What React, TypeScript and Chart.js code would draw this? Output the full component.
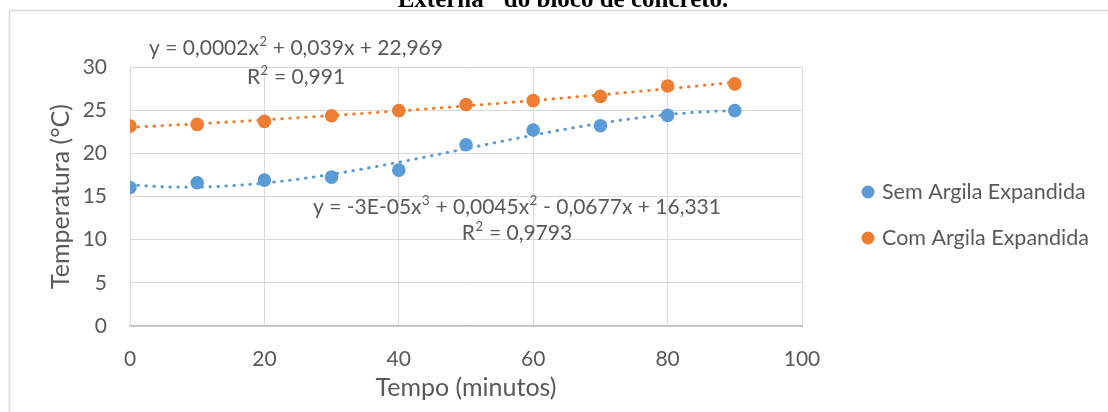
import React, { useEffect, useRef } from "react";
import { Chart, registerables } from "chart.js";

Chart.register(...registerables);

// ---- data ----
const tempoMin: number[] = [0, 10, 20, 30, 40, 50, 60, 70, 80, 90];
const semArgila: number[] = [16.05, 16.6, 16.9, 17.25, 18.05, 21.0, 22.7, 23.2, 24.4, 24.95];
const comArgila: number[] = [23.15, 23.35, 23.7, 24.35, 24.95, 25.65, 26.1, 26.6, 27.8, 28.05];
const seriesNames: string[] = ["Sem Argila Expandida", "Com Argila Expandida"];
const eqSem: string[] = ["y = -3E-05x³ + 0,0045x² - 0,0677x + 16,331", "R² = 0,9793"];
const eqCom: string[] = ["y = 0,0002x² + 0,039x + 22,969", "R² = 0,991"];
const xTitle = "Tempo (minutos)";
const yTitle = "Temperatura (°C)";
const captionText = "Externa\" do bloco de concreto.";

const BLUE = "#5B9BD5";
const ORANGE = "#ED7D31";
const TXT = "#595959";
const FONT = "Lato, 'Noto Sans', sans-serif";

// least-squares polynomial fit (as Excel trendline)
function polyfit(xs: number[], ys: number[], deg: number): number[] {
  const n = deg + 1;
  const A: number[][] = [];
  for (let i = 0; i < n; i++) {
    A.push([]);
    for (let j = 0; j < n; j++) {
      let s = 0;
      for (const x of xs) s += Math.pow(x, i + j);
      A[i].push(s);
    }
    let b = 0;
    xs.forEach((x, k) => (b += ys[k] * Math.pow(x, i)));
    A[i].push(b);
  }
  for (let c = 0; c < n; c++) {
    let p = c;
    for (let r = c + 1; r < n; r++) if (Math.abs(A[r][c]) > Math.abs(A[p][c])) p = r;
    [A[c], A[p]] = [A[p], A[c]];
    for (let r = 0; r < n; r++) {
      if (r === c) continue;
      const f = A[r][c] / A[c][c];
      for (let k = c; k <= n; k++) A[r][k] -= f * A[c][k];
    }
  }
  return A.map((row, i) => row[n] / row[i]);
}

function trend(xs: number[], ys: number[], deg: number) {
  const co = polyfit(xs, ys, deg);
  const out: { x: number; y: number }[] = [];
  const x0 = xs[0];
  const x1 = xs[xs.length - 1];
  for (let x = x0; x <= x1 + 1e-9; x += 1) {
    out.push({ x, y: co.reduce((s, c, i) => s + c * Math.pow(x, i), 0) });
  }
  return out;
}

// draws text centered at (cx, cy), rendering ² and ³ as raised small digits
function drawRich(ctx: CanvasRenderingContext2D, text: string, cx: number, cy: number, size: number) {
  const sup: Record<string, string> = { "²": "2", "³": "3" };
  const runs: { t: string; s: boolean }[] = [];
  for (const ch of text) {
    const isSup = ch in sup;
    const t = isSup ? sup[ch] : ch;
    const last = runs[runs.length - 1];
    if (last && last.s === isSup) last.t += t;
    else runs.push({ t, s: isSup });
  }
  const big = `${size}px ${FONT}`;
  const small = `${Math.round(size * 0.64)}px ${FONT}`;
  let total = 0;
  const widths = runs.map((r) => {
    ctx.font = r.s ? small : big;
    const w = ctx.measureText(r.t).width + (r.s ? 1 : 0);
    total += w;
    return w;
  });
  let x = cx - total / 2;
  ctx.textAlign = "left";
  ctx.textBaseline = "middle";
  runs.forEach((r, i) => {
    ctx.font = r.s ? small : big;
    ctx.fillText(r.t, x + (r.s ? 0.5 : 0), r.s ? cy - size * 0.3 : cy);
    x += widths[i];
  });
}

const decorPlugin = {
  id: "decor",
  beforeDraw(chart: any) {
    const ctx = chart.ctx;
    ctx.save();
    ctx.fillStyle = "#ffffff";
    ctx.fillRect(0, 0, chart.width, chart.height);
    ctx.strokeStyle = "#D9D9D9";
    ctx.lineWidth = 1.5;
    ctx.strokeRect(9.5, 10.5, chart.width + 20, chart.height + 20);
    // clipped caption
    ctx.fillStyle = "#000000";
    ctx.font = "bold 25px 'Liberation Serif', 'Times New Roman', serif";
    ctx.textAlign = "center";
    ctx.textBaseline = "alphabetic";
    ctx.fillText(captionText, 563, 7);
    ctx.restore();
  },
  afterDraw(chart: any) {
    const ctx = chart.ctx;
    ctx.save();
    ctx.fillStyle = TXT;
    drawRich(ctx, eqCom[0], 296, 48, 21);
    drawRich(ctx, eqCom[1], 296, 77, 21);
    drawRich(ctx, eqSem[0], 517, 207, 21);
    drawRich(ctx, eqSem[1], 517, 233, 21);
    // legend
    const items = [
      { name: seriesNames[0], color: BLUE, y: 192 },
      { name: seriesNames[1], color: ORANGE, y: 238 },
    ];
    ctx.font = `21.5px ${FONT}`;
    ctx.textAlign = "left";
    ctx.textBaseline = "middle";
    for (const it of items) {
      ctx.fillStyle = it.color;
      ctx.beginPath();
      ctx.arc(868, it.y, 6.5, 0, Math.PI * 2);
      ctx.fill();
      ctx.fillStyle = TXT;
      ctx.fillText(it.name, 882, it.y);
    }
    ctx.restore();
  },
};

export default function App() {
  const ref = useRef<HTMLCanvasElement | null>(null);
  useEffect(() => {
    if (!ref.current) return;
    const semPts = tempoMin.map((x, i) => ({ x, y: semArgila[i] }));
    const comPts = tempoMin.map((x, i) => ({ x, y: comArgila[i] }));
    const chart = new Chart(ref.current, {
      type: "scatter",
      data: {
        datasets: [
          {
            label: seriesNames[0],
            data: semPts,
            backgroundColor: BLUE,
            borderColor: BLUE,
            pointRadius: 6.8,
            borderWidth: 0,
            order: 0,
          },
          {
            label: seriesNames[1],
            data: comPts,
            backgroundColor: ORANGE,
            borderColor: ORANGE,
            pointRadius: 6.8,
            borderWidth: 0,
            order: 0,
          },
          {
            label: "trend sem",
            data: trend(tempoMin, semArgila, 3),
            showLine: true,
            pointRadius: 0,
            borderColor: BLUE,
            borderWidth: 3,
            borderDash: [0.5, 7.5],
            borderCapStyle: "round",
            order: 1,
          },
          {
            label: "trend com",
            data: trend(tempoMin, comArgila, 2),
            showLine: true,
            pointRadius: 0,
            borderColor: ORANGE,
            borderWidth: 3,
            borderDash: [0.5, 7.5],
            borderCapStyle: "round",
            order: 1,
          },
        ] as any,
      },
      options: {
        animation: false,
        responsive: false,
        events: [],
        layout: { padding: { left: 0, top: 67, right: 306, bottom: 0 } },
        plugins: { legend: { display: false }, tooltip: { enabled: false }, title: { display: false } },
        scales: {
          x: {
            type: "linear",
            min: 0,
            max: 100,
            ticks: { stepSize: 20, color: TXT, font: { family: FONT, size: 21 }, padding: 21, maxRotation: 0 },
            grid: { color: "#D9D9D9", lineWidth: 1, drawTicks: false },
            border: { color: "#BFBFBF", width: 1.5 },
            title: { display: true, text: xTitle, color: TXT, font: { family: FONT, size: 25 }, padding: { top: 0, bottom: 9 } },
            afterFit: (s: any) => {
              s.height = 412 - 326;
            },
          },
          y: {
            type: "linear",
            min: 0,
            max: 30,
            ticks: { stepSize: 5, color: TXT, font: { family: FONT, size: 21 }, padding: 23 },
            grid: { color: "#D9D9D9", lineWidth: 1, drawTicks: false },
            border: { color: "#D9D9D9", width: 1 },
            title: { display: true, text: yTitle, color: TXT, font: { family: FONT, size: 25 }, padding: { top: 46, bottom: 0 } },
            afterFit: (s: any) => {
              s.width = 130;
            },
          },
        },
      } as any,
      plugins: [decorPlugin],
    });
    return () => chart.destroy();
  }, []);
  return (
    <div style={{ position: "absolute", left: 0, top: 0, width: 1108, height: 412, overflow: "hidden", background: "#fff" }}>
      <canvas ref={ref} width={1108} height={412} style={{ display: "block" }} />
    </div>
  );
}
